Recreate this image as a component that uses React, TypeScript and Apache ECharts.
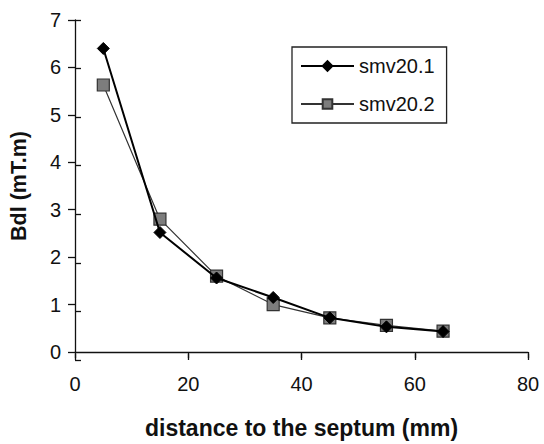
import React, { useEffect, useRef } from "react";
import * as echarts from "echarts";

const distances = [5, 15, 25, 35, 45, 55, 65];
const smv201 = [6.4, 2.52, 1.56, 1.15, 0.72, 0.53, 0.43];
const smv202 = [5.63, 2.8, 1.6, 1.0, 0.72, 0.56, 0.44];
const seriesNames = ["smv20.1", "smv20.2"];
const xTitle = "distance to the septum (mm)";
const yTitle = "Bdl (mT.m)";

const FONT = "'Liberation Sans', Arial, sans-serif";

export default function App() {
  const ref = useRef<HTMLDivElement>(null);
  useEffect(() => {
    if (!ref.current) return;
    const chart = echarts.init(ref.current, undefined, { renderer: "svg" });
    const pair = (xs: number[], ys: number[]) => xs.map((x, i) => [x, ys[i]]);
    const axisLineStyle = { color: "#111", width: 1.3 };
    const gridBox = { left: 75, right: 16, top: 20, bottom: 84 };
    chart.setOption({
      animation: false,
      backgroundColor: "#ffffff",
      grid: [gridBox, gridBox],
      legend: {
        orient: "vertical",
        left: 292,
        top: 47,
        width: 157,
        data: seriesNames,
        itemWidth: 53,
        itemHeight: 12,
        itemGap: 18,
        padding: [9, 12, 9, 8],
        borderColor: "#222",
        borderWidth: 1.3,
        textStyle: { fontFamily: FONT, fontSize: 20, color: "#111" },
      },
      xAxis: [
        {
          type: "value",
          gridIndex: 0,
          min: 0,
          max: 80,
          interval: 20,
          name: xTitle,
          nameLocation: "middle",
          nameGap: 64,
          nameTextStyle: { fontFamily: FONT, fontSize: 23, fontWeight: "bold", color: "#111" },
          axisLine: { lineStyle: axisLineStyle },
          axisTick: { show: true, length: 6, lineStyle: axisLineStyle },
          axisLabel: { fontFamily: FONT, fontSize: 20, color: "#111", margin: 22 },
          splitLine: { show: false },
        },
        {
          type: "value",
          gridIndex: 1,
          position: "bottom",
          min: 0,
          max: 80,
          interval: 20,
          axisLine: { show: false },
          axisTick: { show: true, inside: true, length: 6, lineStyle: axisLineStyle },
          axisLabel: { show: false },
          splitLine: { show: false },
        },
      ],
      yAxis: [
        {
          type: "value",
          gridIndex: 0,
          min: 0,
          max: 7,
          interval: 1,
          name: yTitle,
          nameLocation: "middle",
          nameGap: 45,
          nameTextStyle: { fontFamily: FONT, fontSize: 21.5, fontWeight: "bold", color: "#111" },
          axisLine: { show: true, lineStyle: axisLineStyle },
          axisTick: { show: true, length: 7, lineStyle: axisLineStyle },
          axisLabel: { fontFamily: FONT, fontSize: 20, color: "#111", margin: 14 },
          splitLine: { show: false },
        },
        {
          type: "value",
          gridIndex: 1,
          position: "left",
          min: 0,
          max: 7,
          interval: 1,
          axisLine: { show: false },
          axisTick: { show: true, inside: true, length: 6, lineStyle: axisLineStyle },
          axisLabel: { show: false },
          splitLine: { show: false },
        },
      ],
      series: [
        {
          name: seriesNames[0],
          type: "line",
          xAxisIndex: 0,
          yAxisIndex: 0,
          data: pair(distances, smv201),
          symbol: "diamond",
          symbolSize: 12,
          lineStyle: { color: "#000", width: 2 },
          itemStyle: { color: "#000", borderColor: "#000", borderWidth: 1 },
          z: 3,
        },
        {
          name: seriesNames[1],
          type: "line",
          xAxisIndex: 0,
          yAxisIndex: 0,
          data: pair(distances, smv202),
          symbol: "rect",
          symbolSize: 12,
          lineStyle: { color: "#333", width: 1.2 },
          itemStyle: { color: "#7d7d7d", borderColor: "#333", borderWidth: 1.2 },
          z: 2,
        },
      ],
    });
    return () => chart.dispose();
  }, []);
  return (
    <div
      ref={ref}
      style={{ position: "fixed", left: 0, top: 0, width: 544, height: 444, background: "#fff" }}
    />
  );
}
